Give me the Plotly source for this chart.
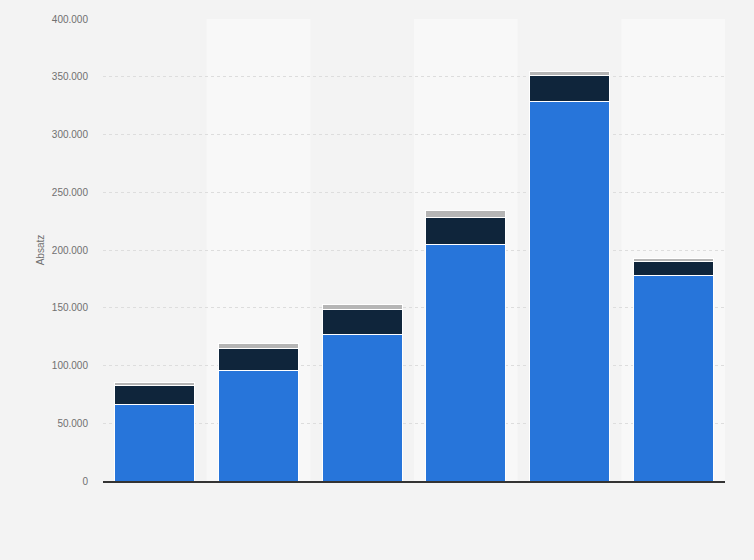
import plotly.graph_objects as go

# categories (no labels shown in the reference)
categories = ["1", "2", "3", "4", "5", "6"]

# stacked series values (Absatz)
series_blue = [66000, 95500, 126500, 204500, 328700, 177500]
series_navy = [17000, 19500, 22300, 23700, 22800, 12500]
series_grey = [2500, 4300, 4300, 6400, 2900, 2400]

y_ticks = [0, 50000, 100000, 150000, 200000, 250000, 300000, 350000, 400000]

fig = go.Figure()
for vals, color, name in [
    (series_blue, "#2775da", "Serie 1"),
    (series_navy, "#0f253b", "Serie 2"),
    (series_grey, "#b5b5b5", "Serie 3"),
]:
    fig.add_trace(go.Bar(
        x=categories, y=vals, name=name,
        marker=dict(color=color, line=dict(color="#ffffff", width=1)),
        hoverinfo="skip",
    ))

# alternating column bands
shapes = []
for i in range(len(categories)):
    if i % 2 == 1:
        shapes.append(dict(
            type="rect", xref="x", yref="paper",
            x0=i - 0.5, x1=i + 0.5, y0=0, y1=1,
            fillcolor="#f8f8f8", line=dict(width=0), layer="below",
        ))

fig.update_layout(
    barmode="stack",
    bargap=0.23,
    showlegend=False,
    width=754, height=560,
    margin=dict(l=103, r=29, t=19, b=79),
    paper_bgcolor="#f3f3f3",
    plot_bgcolor="#f3f3f3",
    separators=",.",
    font=dict(family="Liberation Sans, Arial, sans-serif", size=10, color="#707070"),
    shapes=shapes,
    xaxis=dict(
        showticklabels=False, showgrid=False, ticks="",
        showline=True, linecolor="#333333", linewidth=1.5,
        range=[-0.5, len(categories) - 0.5],
    ),
    yaxis=dict(
        range=[0, 400000], tickvals=y_ticks, tickformat=",",
        showgrid=True, gridcolor="#dddddd", griddash="dot", gridwidth=1,
        zeroline=False, ticks="", ticklabelstandoff=14,
        title=dict(text="Absatz", font=dict(size=10, color="#707070"), standoff=5),
    ),
)

# drop the default page margin so the figure fills the window
fig.write_html(
    "out.html",
    config={"displayModeBar": False},
    post_script="document.body.style.margin='0';document.body.style.background='#f3f3f3';",
)
